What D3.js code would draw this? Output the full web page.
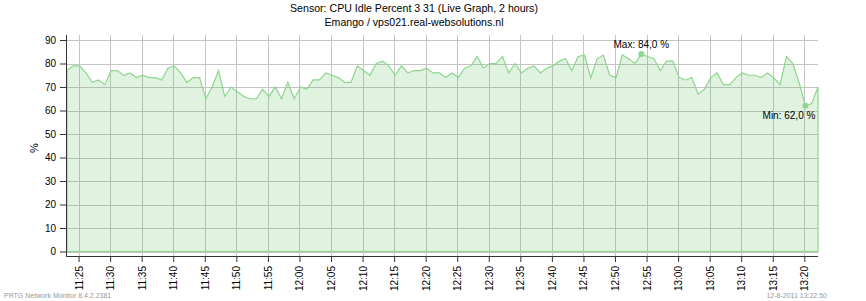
<!DOCTYPE html>
<html>
<head>
<meta charset="utf-8">
<script src="https://cdn.jsdelivr.net/npm/d3@7"></script>
<style>
body { margin:0; background:#fff; }
text { font-family: "Liberation Sans", Arial, sans-serif; }
</style>
</head>
<body>
<svg width="866" height="301"></svg>
<script>
// samples every minute, first one at startTime
var startTime = "11:23:10";
var stepSeconds = 60;
var idleValues = [
	77,79,79,76,72,73,71,77,77,75,76,74,75,74,74,73,78,79,76,72,
	74,74,65,70,77,66,70,68,66,65,65,69,66,70,65,72,65,70,69,73,
	73,76,75,74,72,72,79,77,75,80,81,79,75,79,76,77,77,78,76,76,
	74,76,74,78,79,83,78,80,80,83,76,80,76,78,79,76,78,79,81,82,
	77,83,83.6,74,82,83.6,75,74,83.6,82,80,84,83,82,77,81,81,74,73,74,
	67,69,74,76,71,71,74,76,75,75,74,76,74,71,83,80,72,62,63,70
];
var timeTicks = ["11:25","11:30","11:35","11:40","11:45","11:50","11:55","12:00","12:05","12:10","12:15","12:20",
	"12:25","12:30","12:35","12:40","12:45","12:50","12:55","13:00","13:05","13:10","13:15","13:20"];
var yTicks = [0,10,20,30,40,50,60,70,80,90];
var titleLines = ["Sensor: CPU Idle Percent 3 31 (Live Graph, 2 hours)", "Emango / vps021.real-websolutions.nl"];

var parseT = d3.timeParse("%H:%M:%S");
var parseHM = d3.timeParse("%H:%M");
var t0 = parseT(startTime);

var data = [];
for (var i = 0; i < idleValues.length; i++) {
	data.push({ "time": new Date(t0.getTime() + i * stepSeconds * 1000), "value": idleValues[i] });
}

var svg = d3.select("svg");
var pLeft = 66, pRight = 818, pTop = 35, pBottom = 256;

var x = d3.scaleTime()
	.domain([data[0].time, data[data.length - 1].time])
	.range([67, pRight]);
var y = d3.scaleLinear()
	.domain([0, 90])
	.range([251.5, 40]);

// grid
svg.append("g").selectAll("line")
	.data(yTicks)
	.enter().append("line")
	.attr("x1", pLeft).attr("x2", pRight)
	.attr("y1", function(d) { return Math.round(y(d)) + 0.5; })
	.attr("y2", function(d) { return Math.round(y(d)) + 0.5; })
	.attr("stroke", "#c4c4c4");
svg.append("g").selectAll("line")
	.data(timeTicks.map(parseHM))
	.enter().append("line")
	.attr("x1", function(d) { return Math.round(x(d)) + 0.5; })
	.attr("x2", function(d) { return Math.round(x(d)) + 0.5; })
	.attr("y1", pTop).attr("y2", pBottom)
	.attr("stroke", "#c4c4c4");

// area + line
var area = d3.area()
	.x(function(d) { return x(d.time); })
	.y0(y(0))
	.y1(function(d) { return y(d.value); });
svg.append("path")
	.datum(data)
	.attr("d", area)
	.attr("fill", "rgb(100,190,100)")
	.attr("fill-opacity", 0.2)
	.attr("stroke", "#8ed68e")
	.attr("stroke-width", 1.2);

// axes
var xAxis = d3.axisBottom(x)
	.tickValues(timeTicks.map(parseHM))
	.tickFormat(d3.timeFormat("%H:%M"))
	.tickSize(6);
var gx = svg.append("g")
	.attr("transform", "translate(0," + pBottom + ")")
	.call(xAxis);
gx.select(".domain").remove();
gx.selectAll(".tick line").attr("stroke", "#333");
gx.selectAll("text")
	.attr("transform", "rotate(-90)")
	.attr("text-anchor", "end")
	.attr("x", -10)
	.attr("y", 0)
	.attr("dy", "0.35em")
	.attr("font-size", 10)
	.attr("fill", "#000");

var yAxis = d3.axisLeft(y)
	.tickValues(yTicks)
	.tickSize(6)
	.tickPadding(4);
var gy = svg.append("g")
	.attr("transform", "translate(" + pLeft + ",0)")
	.call(yAxis);
gy.select(".domain").remove();
gy.selectAll(".tick line").attr("stroke", "#333");
gy.selectAll("text").attr("font-size", 10).attr("fill", "#000");

svg.append("line").attr("x1", pLeft + 0.5).attr("x2", pLeft + 0.5).attr("y1", pTop).attr("y2", pBottom + 0.5).attr("stroke", "#333");
svg.append("line").attr("x1", pLeft).attr("x2", pRight).attr("y1", pBottom + 0.5).attr("y2", pBottom + 0.5).attr("stroke", "#333");

svg.append("text")
	.attr("transform", "translate(38,148) rotate(-90)")
	.attr("text-anchor", "middle")
	.attr("font-size", 11)
	.text("%");

// max / min markers
var iMax = d3.maxIndex(data, function(d) { return d.value; });
var iMin = d3.minIndex(data, function(d) { return d.value; });
var fmt = function(v) { return d3.format(".1f")(v).replace(".", ",") + " %"; };
[iMax, iMin].forEach(function(k, j) {
	var d = data[k];
	svg.append("circle")
		.attr("cx", x(d.time)).attr("cy", y(d.value)).attr("r", 3)
		.attr("fill", "#8ed68e");
	svg.append("text")
		.attr("x", j == 0 ? x(d.time) : x(d.time) + 10)
		.attr("y", j == 0 ? y(d.value) - 6 : y(d.value) + 13)
		.attr("text-anchor", j == 0 ? "middle" : "end")
		.attr("font-size", 10)
		.text((j == 0 ? "Max: " : "Min: ") + fmt(d.value));
});

// titles
svg.selectAll(".title")
	.data(titleLines)
	.enter().append("text")
	.attr("class", "title")
	.attr("x", 414)
	.attr("y", function(d, i) { return 12 + i * 14; })
	.attr("text-anchor", "middle")
	.attr("font-size", 10.6)
	.text(function(d) { return d; });

// footer
svg.append("text").attr("x", 4).attr("y", 298).attr("font-size", 7).attr("fill", "#999").text("PRTG Network Monitor 8.4.2.2381");
svg.append("text").attr("x", 827).attr("y", 298).attr("text-anchor", "end").attr("font-size", 7).attr("fill", "#999").text("12-8-2011 13:22:50");
</script>
</body>
</html>
